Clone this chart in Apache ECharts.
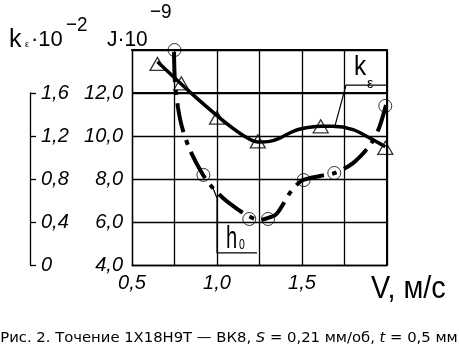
<!DOCTYPE html>
<html>
<head>
<meta charset="utf-8">
<script src="https://cdn.jsdelivr.net/npm/echarts@6/dist/echarts.min.js"></script>
<style>
  html, body { margin: 0; padding: 0; background: #fff; }
  #chart { width: 459px; height: 357px; }
</style>
</head>
<body>
<div id="chart"></div>
<script>
// скорость резания V, м/с
var vTicks = [0.5, 1.0, 1.5]
var jTicks = [4, 6, 8, 10, 12]
var kTicks = [0, 0.4, 0.8, 1.2, 1.6]

// k_e (треугольники) - по шкале k
var kPointsV = [0.65, 0.79, 1.0, 1.24, 1.61, 1.99]
var kPoints = [1.87, 1.69, 1.37, 1.15, 1.29, 1.09]
var kCurveV = [0.65, 0.84, 1.03, 1.15, 1.24, 1.31, 1.37, 1.43, 1.49, 1.61, 1.68, 1.80, 1.90, 1.99]
var kCurve = [1.89, 1.61, 1.35, 1.21, 1.145, 1.15, 1.18, 1.23, 1.265, 1.29, 1.29, 1.26, 1.18, 1.10]

// h0 (кружки) - по шкале J
var hPointsV = [0.75, 0.92, 1.19, 1.30, 1.51, 1.69, 1.99]
var hPoints = [14.0, 8.19, 6.14, 6.14, 7.95, 8.28, 11.4]
var hCurveV = [0.747, 0.753, 0.771, 0.794, 0.841, 0.918, 0.976, 1.035, 1.088, 1.165, 1.253, 1.30, 1.35, 1.441, 1.506, 1.606, 1.694, 1.80, 1.90, 1.953, 1.994]
var hCurve = [13.9, 12.47, 11.3, 10.42, 9.35, 8.19, 7.58, 7.12, 6.79, 6.37, 6.09, 6.19, 6.37, 7.49, 7.95, 8.14, 8.28, 8.74, 9.58, 10.37, 11.44]

// выноски
var hLeaderV = [0.976, 1.0, 1.0, 1.235]
var hLeader = [7.58, 7.12, 4.56, 4.56]
var kLeaderV = [1.694, 1.759, 2.0]
var kLeader = [10.47, 12.37, 12.37]

function pairs(xs, ys) {
  return xs.map(function (x, i) { return [x, ys[i]] })
}
function comma(v, d) {
  return v.toFixed(d).replace('.', ',')
}
function has(list, v) {
  return list.some(function (t) { return Math.abs(t - v) < 1e-6 })
}

var FONT = '"Liberation Sans", Arial, sans-serif'
var labelStyle = {
  color: '#000',
  fontFamily: FONT,
  fontStyle: 'italic',
  fontSize: 20
}

var chart = echarts.init(document.getElementById('chart'))

// надпись: x, y - левый край и середина по высоте, sx - сжатие по горизонтали
function txt(text, x, y, size, sx) {
  return {
    type: 'text', silent: true,
    x: x, y: y, scaleX: sx || 1,
    style: {
      text: text, x: 0, y: 0,
      font: size + 'px ' + FONT,
      fill: '#000',
      align: 'left', textAlign: 'left',
      verticalAlign: 'middle', textVerticalAlign: 'middle'
    }
  }
}

var option = {
  animation: false,
  backgroundColor: '#fff',
  grid: [
    { left: 132, top: 50, width: 255, height: 215 },
    { left: 30, top: 93, width: 10, height: 172 }
  ],
  xAxis: [
    {
      type: 'value', gridIndex: 0, min: 0.5, max: 2.0, interval: 0.25,
      axisLine: { show: true, onZero: false, lineStyle: { color: '#000', width: 1.3 } },
      axisTick: { show: false },
      splitLine: { show: true, lineStyle: { color: '#000', width: 1.3 } },
      axisLabel: Object.assign({
        margin: 8,
        formatter: function (v) { return has(vTicks, v) ? comma(v, 1) : '' }
      }, labelStyle)
    },
    {
      type: 'value', gridIndex: 0, position: 'top', min: 0.5, max: 2.0,
      axisLine: { show: true, onZero: false, lineStyle: { color: '#000', width: 2 } },
      axisTick: { show: false }, axisLabel: { show: false }, splitLine: { show: false }
    },
    {
      type: 'value', gridIndex: 1, show: false, min: 0, max: 1
    }
  ],
  yAxis: [
    {
      type: 'value', gridIndex: 0, min: 4, max: 14, interval: 2,
      axisLine: { show: true, onZero: false, lineStyle: { color: '#000', width: 1.3 } },
      axisTick: { show: false },
      splitLine: { show: true, lineStyle: { color: '#000', width: 1.3 } },
      axisLabel: Object.assign({
        margin: 9, padding: [0, 0, 6, 0],
        formatter: function (v) { return has(jTicks, v) ? comma(v, 1) : '' }
      }, labelStyle)
    },
    {
      type: 'value', gridIndex: 0, position: 'right', min: 0, max: 2,
      axisLine: { show: true, onZero: false, lineStyle: { color: '#000', width: 2 } },
      axisTick: { show: false }, axisLabel: { show: false }, splitLine: { show: false }
    },
    {
      type: 'value', gridIndex: 1, position: 'left', min: 0, max: 1.6, interval: 0.4,
      axisLine: { show: true, onZero: false, lineStyle: { color: '#000', width: 1.3 } },
      axisTick: { show: true, inside: true, length: 6, lineStyle: { color: '#000', width: 1.3 } },
      splitLine: { show: false },
      axisLabel: Object.assign({
        inside: true, margin: 11, padding: [0, 0, 4, 0],
        formatter: function (v) { return has(kTicks, v) ? (v === 0 ? '0' : comma(v, 1)) : '' }
      }, labelStyle)
    }
  ],
  series: [
    {
      name: 'k_e', type: 'line', xAxisIndex: 0, yAxisIndex: 1,
      data: pairs(kCurveV, kCurve), smooth: 0.3, showSymbol: false, silent: true,
      lineStyle: { color: '#000', width: 3.5 }
    },
    {
      name: 'k_e точки', type: 'scatter', xAxisIndex: 0, yAxisIndex: 1,
      data: pairs(kPointsV, kPoints), symbol: 'triangle', symbolSize: [15, 13], silent: true,
      itemStyle: { color: 'none', borderColor: '#000', borderWidth: 1.3 }
    },
    {
      name: 'h0', type: 'line', xAxisIndex: 0, yAxisIndex: 0,
      data: pairs(hCurveV, hCurve), smooth: 0.3, showSymbol: false, silent: true,
      lineStyle: { color: '#000', width: 4, type: [30, 8, 5, 8], cap: 'butt' }
    },
    {
      name: 'h0 точки', type: 'scatter', xAxisIndex: 0, yAxisIndex: 0,
      data: pairs(hPointsV, hPoints), symbol: 'circle', symbolSize: 13, silent: true,
      itemStyle: { color: 'none', borderColor: '#000', borderWidth: 1 }
    },
    {
      name: 'выноска h0', type: 'line', xAxisIndex: 0, yAxisIndex: 0,
      data: pairs(hLeaderV, hLeader), showSymbol: false, silent: true,
      lineStyle: { color: '#000', width: 1.2 },
      markLine: {
        silent: true, symbol: 'none', label: { show: false },
        lineStyle: { color: '#000', width: 2, type: 'solid' },
        data: [{ yAxis: 12 }]
      }
    },
    {
      name: 'выноска k', type: 'line', xAxisIndex: 0, yAxisIndex: 0,
      data: pairs(kLeaderV, kLeader), showSymbol: false, silent: true,
      lineStyle: { color: '#000', width: 1.2 }
    }
  ],
  graphic: [
    txt('k', 9, 40, 25),
    txt('ε', 25, 45, 9),
    txt('·10', 31, 40, 22, 1.0),
    txt('−2', 66, 25, 21, 0.9),
    txt('J·10', 107, 40, 22, 0.95),
    txt('−9', 150, 12, 21, 0.9),
    txt('k', 354, 68, 27, 0.9),
    txt('ε', 367, 84, 14),
    txt('h', 226, 239, 31, 0.65),
    txt('0', 239, 245, 14, 0.75),
    txt('V, м/с', 371, 289, 32, 0.9),
    {
      type: 'text', silent: true,
      style: {
        text: 'Рис. 2. Точение 1Х18Н9Т — ВК8, {i|S} = 0,21 мм/об, {i|t} = 0,5 мм',
        x: 229, y: 338,
        font: '14.8px "DejaVu Sans", sans-serif',
        fill: '#000',
        align: 'center', textAlign: 'center',
        verticalAlign: 'middle', textVerticalAlign: 'middle',
        rich: {
          i: { fontStyle: 'italic', fontSize: 14.8, fontFamily: '"DejaVu Sans", sans-serif', color: '#000' }
        }
      }
    }
  ]
}

chart.setOption(option)
</script>
</body>
</html>
